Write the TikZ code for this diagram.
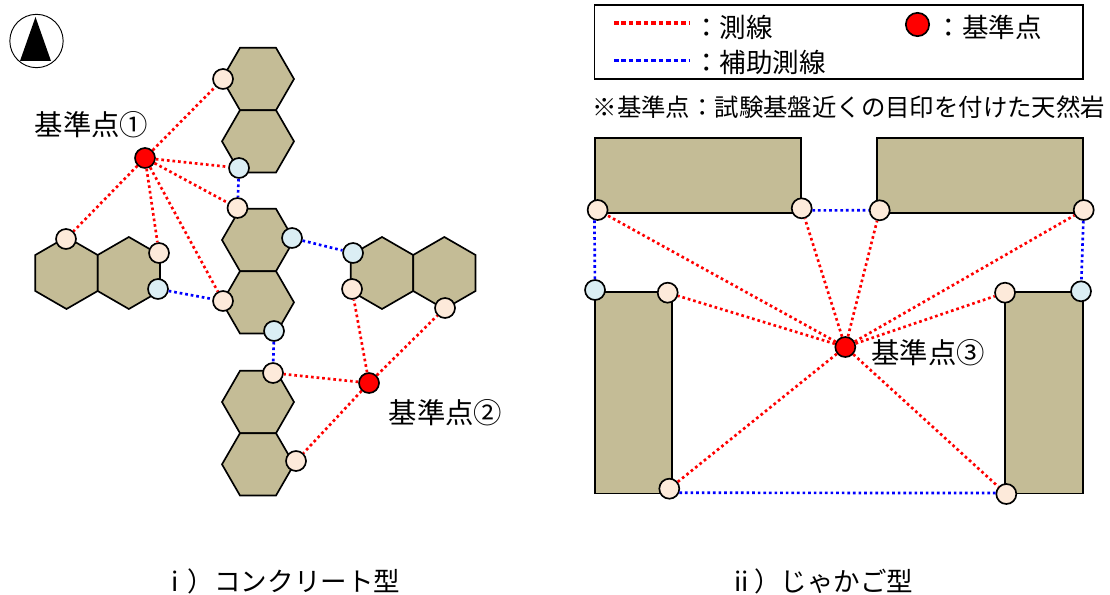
\documentclass[tikz,border=0pt]{standalone}
\usepackage{fontspec}
\setmainfont{Noto Sans CJK JP}
\usepackage{tikz}
\usetikzlibrary{positioning,shapes.geometric}

\begin{document}
\begin{tikzpicture}[
  x=0.75pt,y=-0.75pt,
  hexnode/.style={draw,fill=blocktan,line width=1.25pt,regular polygon,regular polygon sides=6,minimum size=54pt,inner sep=0pt,outer sep=0pt},
  hexflat/.style={hexnode},
  hexpoint/.style={hexnode,shape border rotate=30},
  blocknode/.style={draw,fill=blocktan,line width=1.25pt,rectangle,inner sep=0pt},
  marknode/.style={draw,circle,line width=1.25pt,minimum size=15pt,inner sep=0pt},
  pinknode/.style={marknode,fill=markpink},
  bluenode/.style={marknode,fill=markblue},
  refnode/.style={marknode,fill=red},
  labelnode/.style={inner sep=0pt,anchor=west,font=\fontsize{21.3pt}{23pt}\selectfont},
  keytext/.style={inner sep=0pt,anchor=west,font=\fontsize{19.9pt}{22pt}\selectfont},
  surveyline/.style={red,line width=2pt,dash pattern=on 2pt off 2.2pt},
  helpline/.style={blue,line width=2pt,dash pattern=on 2pt off 2.2pt},
  keyred/.style={red,line width=2.7pt,dash pattern=on 3.4pt off 2.2pt},
  keyblue/.style={blue,line width=2.7pt,dash pattern=on 3.4pt off 2.2pt}
]
\definecolor{blocktan}{HTML}{C4BC96}
\definecolor{markpink}{HTML}{FDEADA}
\definecolor{markblue}{HTML}{DBEEF4}
\useasboundingbox (0,0) rectangle (1110,595);

\node[draw,circle,line width=0.7pt,minimum size=40pt,inner sep=0pt] (north) at (36.5,41) {};
\fill (35.5,17) -- (20,61) -- (51,61) -- cycle;

\node[hexflat] (hexa) at (258,79) {};
\node[hexflat,below=0pt of hexa] (hexb) {};
\node[hexflat] (hexc) at (258,240) {};
\node[hexflat,below=0pt of hexc] (hexd) {};
\node[hexflat] (hexe) at (258,402) {};
\node[hexflat,below=0pt of hexe] (hexf) {};
\node[hexpoint] (hexg) at (66.5,273) {};
\node[hexpoint,right=0pt of hexg] (hexh) {};
\node[hexpoint] (hexi) at (382,273) {};
\node[hexpoint,right=0pt of hexi] (hexj) {};

\node[blocknode,minimum width=206.3*0.75pt,minimum height=75*0.75pt] (topl) at (697.9,175.8) {};
\node[blocknode,minimum width=206.3*0.75pt,minimum height=75*0.75pt] (topr) at (979.9,175.8) {};
\node[blocknode,minimum width=77.5*0.75pt,minimum height=201.3*0.75pt] (sidel) at (633.5,392.7) {};
\node[blocknode,minimum width=77.5*0.75pt,minimum height=201.3*0.75pt] (sider) at (1044,392.7) {};

\node[refnode] (refa) at (145,158) {};
\node[refnode] (refb) at (369,383) {};
\node[refnode] (refc) at (845.3,347) {};

\node[pinknode] (aa) at (223,79) {};
\node[bluenode] (ab) at (239,168) {};
\node[pinknode] (ac) at (237.5,208) {};
\node[pinknode] (ad) at (66,239) {};
\node[pinknode] (ae) at (159,253) {};
\node[bluenode] (af) at (158,289) {};
\node[pinknode] (ag) at (223,301) {};
\node[bluenode] (ah) at (292,238) {};
\node[bluenode] (ai) at (353,253) {};
\node[pinknode] (aj) at (352,289) {};
\node[pinknode] (ak) at (445,308) {};
\node[bluenode] (al) at (274,331) {};
\node[pinknode] (am) at (273,373) {};
\node[pinknode] (an) at (296,461) {};

\node[pinknode] (ca) at (597.6,210) {};
\node[pinknode] (cb) at (801.7,208.3) {};
\node[pinknode] (cc) at (879.7,210.3) {};
\node[pinknode] (cd) at (1083.7,210) {};
\node[bluenode] (ce) at (595,290) {};
\node[pinknode] (cf) at (667.7,292.7) {};
\node[pinknode] (cg) at (1005,292.7) {};
\node[bluenode] (ch) at (1081,291.3) {};
\node[pinknode] (ci) at (669.3,488.7) {};
\node[pinknode] (cj) at (1006.3,494) {};

\path (refa) edge[surveyline] (aa)
(refa) edge[surveyline] (ab)
(refa) edge[surveyline] (ac)
(refa) edge[surveyline] (ad)
(refa) edge[surveyline] (ae)
(refa) edge[surveyline] (ag)
(refb) edge[surveyline] (aj)
(refb) edge[surveyline] (ak)
(refb) edge[surveyline] (am)
(refb) edge[surveyline] (an);
\path (ab) edge[helpline] (ac)
(af) edge[helpline] (ag)
(ah) edge[helpline] (ai)
(al) edge[helpline] (am);

\path (refc) edge[surveyline] (ca)
(refc) edge[surveyline] (cb)
(refc) edge[surveyline] (cc)
(refc) edge[surveyline] (cd)
(refc) edge[surveyline] (cf)
(refc) edge[surveyline] (cg)
(refc) edge[surveyline] (ci)
(refc) edge[surveyline] (cj);
\path (ca.-107) edge[helpline] (ce)
(cb.-11) edge[helpline] (cc)
(cd) edge[helpline] (ch)
(ci.-22) edge[helpline] (cj.175);

\node[labelnode] (labela) at (34.5,125) {基準点①};
\node[labelnode] (labelb) at (388.5,413) {基準点②};
\node[labelnode] (labelc) at (871,353) {基準点③};

\node[draw,line width=1.25pt,minimum width=488.5*0.75pt,minimum height=74.5*0.75pt,inner sep=0pt] (legend) at (838.8,42) {};
\coordinate (keyaa) at (614,23);
\coordinate (keyab) at (689,23);
\coordinate (keyba) at (614,60.5);
\coordinate (keybb) at (689,60.5);
\path (keyaa) edge[keyred] (keyab)
(keyba) edge[keyblue] (keybb);
\node[keytext] (keya) at (693,27) {：測線};
\node[keytext] (keyb) at (693,62) {：補助測線};
\node[marknode,fill=red,minimum size=17.5pt] (keyc) at (917.5,24.5) {};
\node[keytext] (keyd) at (935.5,27) {：基準点};
\node[inner sep=0pt,anchor=west,font=\fontsize{18.3pt}{20pt}\selectfont] (note) at (592.5,107) {※基準点：試験基盤近くの目印を付けた天然岩};

\node[keytext] (capa) at (171,581.5) {i\hspace{7pt}）コンクリート型};
\node[keytext] (capb) at (734,581.5) {ii\hspace{4pt}）じゃかご型};
\end{tikzpicture}
\end{document}
